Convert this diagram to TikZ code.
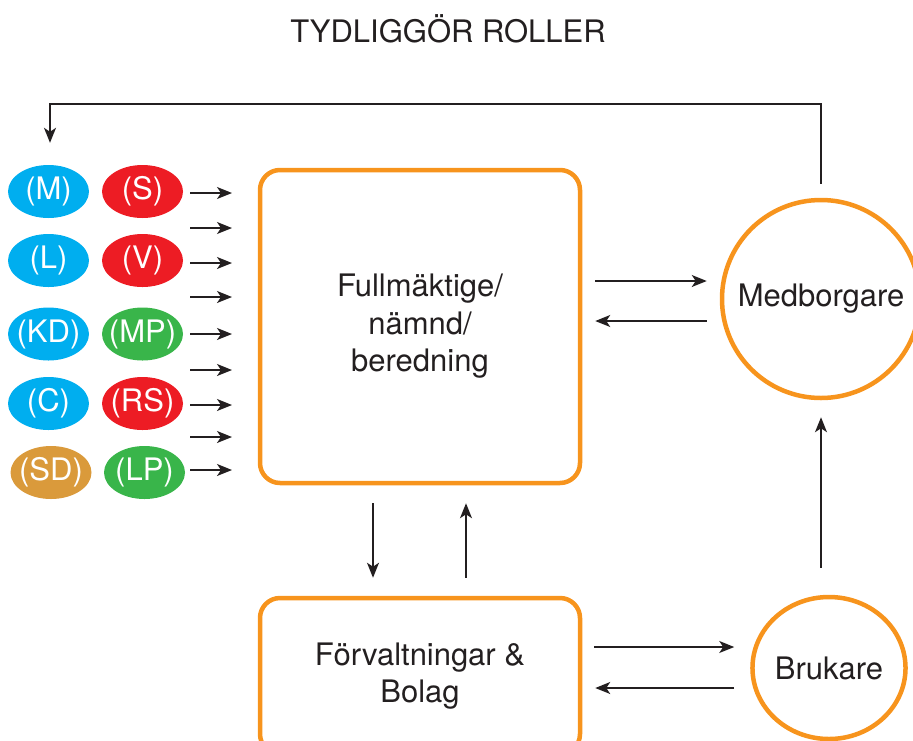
\documentclass[tikz,border=0pt]{standalone}
\usepackage{fontspec}
\setmainfont{TeX Gyre Heros}
\usetikzlibrary{shapes.geometric,arrows.meta,calc}

\definecolor{partyblue}{RGB}{0,174,239}
\definecolor{partyred}{RGB}{237,28,36}
\definecolor{partygreen}{RGB}{57,181,74}
\definecolor{partybrown}{RGB}{218,154,59}
\definecolor{roleorange}{RGB}{247,148,29}
\definecolor{inkgrey}{RGB}{35,31,32}

% party labels may run over the edge of their ellipse
\newcommand{\ptylabel}[1]{\makebox[0pt]{#1}}

\tikzset{
  bigtext/.style={font=\fontsize{31}{37.5}\selectfont},
  party/.style={ellipse, minimum width=81, minimum height=53, inner sep=0, text=white, bigtext},
  rolebox/.style={draw=roleorange, line width=4.5, rounded corners=20, minimum width=320, align=center, text=inkgrey, bigtext},
  roleround/.style={draw=roleorange, line width=4.5, inner sep=0, text=inkgrey, bigtext},
  arr/.style={draw=inkgrey, line width=1.5, -{Stealth[length=15pt,width=12pt,inset=4pt]}}
}

\begin{document}
\begin{tikzpicture}[x=1pt, y=-1pt] % image coordinates, y runs down

    \useasboundingbox (0,0) rectangle (913,740);

    % Title
    \node[anchor=base, text=inkgrey, font=\fontsize{31}{37}\selectfont] (title) at (448,42) {TYDLIGGÖR ROLLER};

    % Parties (left column / right column)
    \node[party, fill=partyblue] (m) at (48.5,191.5) {\ptylabel{(M)}};
    \node[party, fill=partyred] (s) at (142.5,191.5) {\ptylabel{(S)}};
    \node[party, fill=partyblue] (l) at (48.5,260.5) {\ptylabel{(L)}};
    \node[party, fill=partyred] (v) at (142.5,260.5) {\ptylabel{(V)}};
    \node[party, fill=partyblue] (kd) at (48.5,334) {\ptylabel{(KD)}};
    \node[party, fill=partygreen] (mp) at (142.5,334) {\ptylabel{(MP)}};
    \node[party, fill=partyblue] (c) at (48.5,403.5) {\ptylabel{(C)}};
    \node[party, fill=partyred] (rs) at (142.5,403.5) {\ptylabel{(RS)}};
    \node[party, fill=partybrown] (sd) at (51,472.5) {\ptylabel{(SD)}};
    \node[party, fill=partygreen] (lp) at (144.5,472.5) {\ptylabel{(LP)}};

    % Roles
    \node[rolebox, minimum height=313] (full) at (420,326.5) {Fullmäktige/\\nämnd/\\beredning};
    \node[rolebox, minimum height=156] (forv) at (420,676) {Förvaltningar \&\\Bolag};
    \node[roleround, circle, minimum size=198] (med) at (821,299) {Medborgare};
    \node[roleround, ellipse, minimum width=148, minimum height=142] (bru) at (829,668) {Brukare};

    % Small arrows from the parties into the assembly
    \draw[arr] (190,193) -- (232,193);
    \draw[arr] (190,228) -- (232,228);
    \draw[arr] (190,263) -- (232,263);
    \draw[arr] (190,297) -- (232,297);
    \draw[arr] (190,334) -- (232,334);
    \draw[arr] (190,370) -- (232,370);
    \draw[arr] (190,405) -- (232,405);
    \draw[arr] (190,437) -- (232,437);
    \draw[arr] (190,470) -- (232,470);

    % Assembly <-> citizens
    \draw[arr] ($(full.east)+(13,-45.5)$) -- ($(med.west)+(-13,-18)$);
    \draw[arr] ($(med.west)+(-13,22)$) -- ($(full.east)+(13,-5.5)$);

    % Assembly <-> administrations
    \draw[arr] ($(full.south)+(-47,18)$) -- ($(forv.north)+(-47,-18)$);
    \draw[arr] ($(forv.north)+(46,-18)$) -- ($(full.south)+(46,18)$);

    % Administrations <-> users
    \draw[arr] ($(forv.east)+(12,-29)$) -- ($(bru.west)+(-16,-21)$);
    \draw[arr] ($(bru.west)+(-16,20)$) -- ($(forv.east)+(13,12)$);

    % Users -> citizens
    \draw[arr] ($(bru.north)+(-8,-27)$) -- ($(med.south)+(0,17)$);

    % Feedback from citizens back to the parties
    \coordinate (corner) at (50,104);
    \draw[arr] ($(med.north)+(0,-14)$) |- (corner) -- ($(m.north)+(1.5,-22)$);

\end{tikzpicture}
\end{document}
